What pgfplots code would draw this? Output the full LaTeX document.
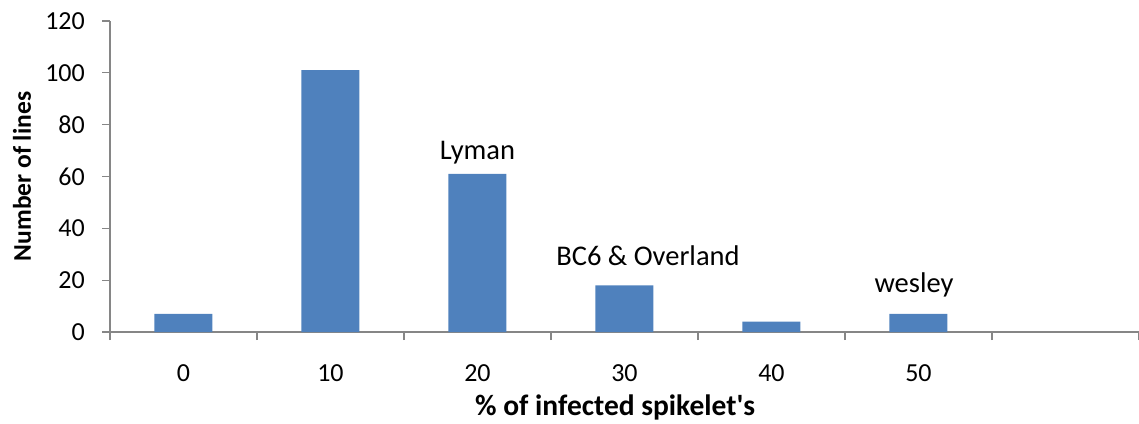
\documentclass[border=0pt]{standalone}
\usepackage{fontspec}
\setmainfont{Carlito}
\usepackage{pgfplots}
\pgfplotsset{compat=1.18}
\definecolor{barblue}{HTML}{4F81BD}
\definecolor{axgray}{HTML}{868686}
\begin{document}
\begin{tikzpicture}[x=1pt,y=1pt]
\path[use as bounding box] (0,0) rectangle (1139,423);
\begin{axis}[
  at={(110pt,91pt)}, anchor=south west,
  scale only axis, width=1029pt, height=311pt,
  xmin=-0.5, xmax=6.5, ymin=0, ymax=120,
  axis x line=bottom, axis y line=left,
  axis line style={draw=axgray, line width=1.3pt, -},
  tick align=outside,
  major tick length=8pt, minor tick length=8pt,
  tick style={draw=axgray, line width=1.3pt},
  ytick={0,20,...,120},
  xtick={0,...,5}, xticklabels={0,10,20,30,40,50},
  major x tick style={draw=none},
  minor xtick={-0.5,0.5,...,6.5},
  minor x tick style={draw=axgray, line width=1.3pt},
  /pgf/number format/assume math mode=true,
  ticklabel style={font=\fontsize{26}{30}\selectfont},
  yticklabel style={inner sep=0pt, xshift=-17pt},
  xticklabel style={inner sep=0pt, yshift=-24pt},
  ylabel={\bfseries Number of lines},
  ylabel style={font=\fontsize{25.5}{30}\selectfont, at={(axis description cs:-0.0855,0.5)}, anchor=center, rotate=0},
  xlabel={\bfseries \% of infected spikelet\textquotesingle s},
  xlabel style={font=\fontsize{29.5}{34}\selectfont, at={(axis description cs:0.491,-0.244)}, anchor=center},
  ybar, bar width=58pt,
  clip=false,
]
\addplot[fill=barblue, draw=none, bar shift=0pt] coordinates {(0,7) (1,101) (2,61) (3,18) (4,4) (5,7)};
\node[font=\fontsize{28.5}{32}\selectfont] at (axis cs:2,69.1) {Lyman};
\node[font=\fontsize{28.5}{32}\selectfont] at (axis cs:3.16,29.3) {BC6 \& Overland};
\node[font=\fontsize{28.5}{32}\selectfont] at (axis cs:4.97,18.1) {wesley};
\end{axis}
\end{tikzpicture}
\end{document}
